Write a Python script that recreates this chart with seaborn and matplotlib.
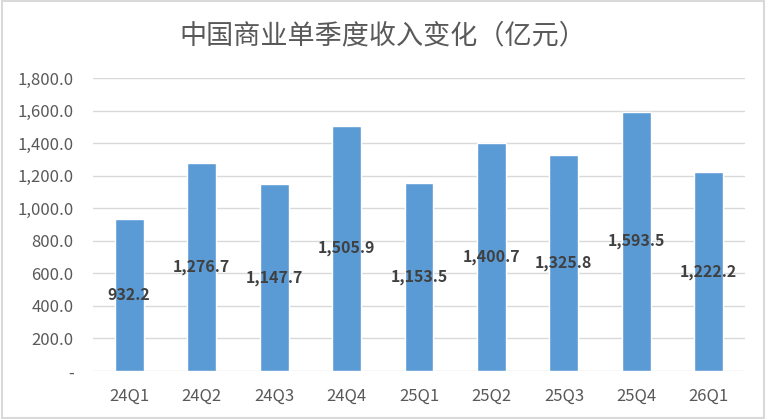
import matplotlib
matplotlib.use("Agg")
import matplotlib.pyplot as plt
import seaborn as sns
import pandas as pd
from matplotlib.patches import Rectangle

quarters = ["24Q1", "24Q2", "24Q3", "24Q4", "25Q1", "25Q2", "25Q3", "25Q4", "26Q1"]
revenue = [932.2, 1276.7, 1147.7, 1505.9, 1153.5, 1400.7, 1325.8, 1593.5, 1222.2]
title = "中国商业单季度收入变化（亿元）"

df = pd.DataFrame({"quarter": quarters, "revenue": revenue})

sns.set_theme(style="white")
plt.rcParams['font.family'] = ['Noto Sans CJK SC', 'DejaVu Sans']

fig = plt.figure(figsize=(7.66, 4.19), dpi=100)
ax = fig.add_axes([0.1214, 0.1146, 0.8512, 0.6992])

sns.barplot(data=df, x="quarter", y="revenue", color="#5B9BD5", saturation=1,
            width=0.4, ax=ax, zorder=3)

ax.set_ylim(0, 1800)
ax.set_xlim(-0.5, len(quarters) - 0.5)
yt = list(range(0, 1801, 200))
ax.set_yticks(yt)
ax.set_yticklabels(["-" if v == 0 else f"{v:,.1f}" for v in yt])
ax.grid(axis="y", color="#D9D9D9", linewidth=1, zorder=0)
for s in ax.spines.values():
    s.set_visible(False)
ax.set_xlabel("")
ax.set_ylabel("")
ax.tick_params(axis="both", length=0, labelsize=12, labelcolor="#595959")
ax.tick_params(axis="y", pad=14)
ax.tick_params(axis="x", pad=12)

for p, v in zip(ax.patches, revenue):
    ax.text(p.get_x() + p.get_width() / 2, v / 2, f"{v:,.1f}",
            ha="center", va="center", fontsize=11.5, fontweight="bold",
            color="#404040", zorder=4)

fig.text(0.5, 0.915, title, ha="center", va="center", fontsize=19.5, color="#595959")

fig.patches.append(Rectangle((0.002, 0.003), 0.996, 0.994, transform=fig.transFigure,
                             fill=False, edgecolor="#D9D9D9", linewidth=1.5))

fig.savefig("out.png", dpi=100)
